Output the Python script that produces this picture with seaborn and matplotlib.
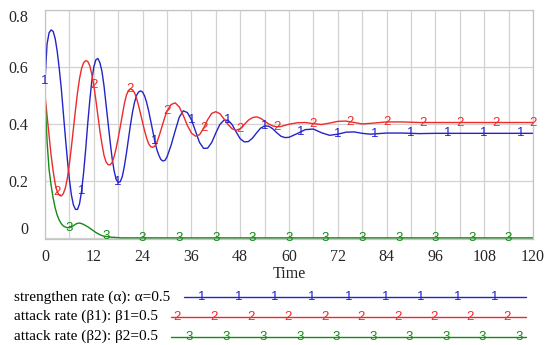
import numpy as np
import pandas as pd
import matplotlib
matplotlib.use('Agg')
import matplotlib.pyplot as plt
from matplotlib.lines import Line2D
import seaborn as sns

# ─── Data ───
# sample times: every 0.5 up to 30, every 1 up to 60, then coarser
time = (list(np.arange(0, 30.5, 0.5)) + list(range(31, 61))
        + list(range(62, 81, 2)) + list(range(84, 121, 4)))

strengthen = [
    # 0 .. 30 (step 0.5)
    0.55, 0.68, 0.72, 0.73, 0.725, 0.70, 0.655, 0.595, 0.525, 0.44,
    0.355, 0.275, 0.205, 0.15, 0.115, 0.10, 0.10, 0.12, 0.165, 0.23,
    0.31, 0.40, 0.48, 0.55, 0.60, 0.625, 0.63, 0.615, 0.585, 0.535,
    0.47, 0.405, 0.34, 0.28, 0.235, 0.205, 0.195, 0.197, 0.215, 0.25,
    0.295, 0.345, 0.395, 0.44, 0.475, 0.50, 0.512, 0.516, 0.512, 0.498,
    0.475, 0.445, 0.41, 0.375, 0.34, 0.31, 0.29, 0.275, 0.27, 0.272,
    0.284,
    # 31 .. 60
    0.325, 0.375, 0.423, 0.446, 0.44, 0.415, 0.375, 0.335, 0.314, 0.315,
    0.335, 0.368, 0.398, 0.413, 0.413, 0.398, 0.372, 0.348, 0.337, 0.338,
    0.35, 0.368, 0.385, 0.393, 0.392, 0.383, 0.369, 0.357, 0.352, 0.353,
    # 62 .. 80
    0.366, 0.38, 0.382, 0.369, 0.36, 0.364, 0.371, 0.372, 0.367, 0.364,
    # 84 .. 120
    0.368, 0.368, 0.366, 0.367, 0.367, 0.367, 0.367, 0.367, 0.367, 0.367]

attack_b1 = [
    # 0 .. 30 (step 0.5)
    0.5, 0.43, 0.36, 0.29, 0.235, 0.19, 0.162, 0.15, 0.147, 0.155,
    0.175, 0.21, 0.26, 0.32, 0.385, 0.45, 0.51, 0.56, 0.595, 0.615,
    0.622, 0.62, 0.605, 0.575, 0.535, 0.485, 0.43, 0.375, 0.33, 0.29,
    0.267, 0.257, 0.256, 0.265, 0.285, 0.315, 0.35, 0.39, 0.43, 0.47,
    0.50, 0.517, 0.523, 0.52, 0.51, 0.49, 0.465, 0.435, 0.405, 0.375,
    0.35, 0.33, 0.32, 0.318, 0.322, 0.335, 0.355, 0.378, 0.402, 0.425,
    0.445,
    # 31 .. 60
    0.468, 0.474, 0.46, 0.43, 0.395, 0.368, 0.357, 0.362, 0.385, 0.415,
    0.437, 0.443, 0.436, 0.418, 0.398, 0.383, 0.378, 0.383, 0.398, 0.413,
    0.422, 0.425, 0.42, 0.41, 0.40, 0.393, 0.39, 0.391, 0.395, 0.399,
    # 62 .. 80
    0.404, 0.405, 0.401, 0.398, 0.403, 0.409, 0.41, 0.405, 0.40, 0.402,
    # 84 .. 120
    0.407, 0.407, 0.405, 0.405, 0.405, 0.405, 0.405, 0.405, 0.405, 0.405]

attack_b2 = [
    # 0 .. 30 (step 0.5)
    0.5, 0.34, 0.24, 0.185, 0.14, 0.105, 0.08, 0.062, 0.05, 0.042,
    0.038, 0.036, 0.036, 0.039, 0.043, 0.048, 0.051, 0.052, 0.05, 0.047,
    0.043, 0.039, 0.034, 0.029, 0.024, 0.019, 0.015, 0.011, 0.008, 0.006,
    0.005, 0.004, 0.003, 0.002, 0.002, 0.001, 0.001, 0.0, 0.0, 0.0,
    0.0, 0.0, 0.0, 0.0, 0.0, 0.0, 0.0, 0.0, 0.0, 0.0,
    0.0, 0.0, 0.0, 0.0, 0.0, 0.0, 0.0, 0.0, 0.0, 0.0,
    0.0,
    # 31 .. 60
    0.0, 0.0, 0.0, 0.0, 0.0, 0.0, 0.0, 0.0, 0.0, 0.0,
    0.0, 0.0, 0.0, 0.0, 0.0, 0.0, 0.0, 0.0, 0.0, 0.0,
    0.0, 0.0, 0.0, 0.0, 0.0, 0.0, 0.0, 0.0, 0.0, 0.0,
    # 62 .. 80
    0.0, 0.0, 0.0, 0.0, 0.0, 0.0, 0.0, 0.0, 0.0, 0.0,
    # 84 .. 120
    0.0, 0.0, 0.0, 0.0, 0.0, 0.0, 0.0, 0.0, 0.0, 0.0]

x_ticks = [0, 12, 24, 36, 48, 60, 72, 84, 96, 108, 120]
y_ticks = [0, 0.2, 0.4, 0.6, 0.8]
y_tick_labels = ['0', '0.2', '0.4', '0.6', '0.8']

series_names = ['strengthen rate (α): α=0.5',
                'attack rate (β1): β1=0.5',
                'attack rate (β2): β2=0.5']
series_tags = ['1', '2', '3']
colors = ['#2424c8', '#ee2a2a', '#158a15']

df = pd.DataFrame({'Time': time,
                   series_names[0]: strengthen,
                   series_names[1]: attack_b1,
                   series_names[2]: attack_b2})
long_df = df.melt(id_vars='Time', var_name='series', value_name='value')

sns.set_style('white')
plt.rcParams['font.family'] = ['Liberation Serif', 'DejaVu Serif']

fig = plt.figure(figsize=(5.5, 3.45), dpi=100)
ax = fig.add_axes([45 / 550, 1 - 239 / 345, 488 / 550, 229 / 345])

sns.lineplot(data=long_df, x='Time', y='value', hue='series',
             palette=dict(zip(series_names, colors)), legend=False,
             linewidth=1.0, ax=ax)

# ─── Numbered tags along each curve (Vensim style) ───
tag_starts = [0, 3, 6]
for vals, tag, start, col in zip([strengthen, attack_b1, attack_b2], series_tags, tag_starts, colors):
    for t in range(start, 121, 9):
        ax.text(t, np.interp(t, time, vals), tag, color=col, fontsize=9.5,
                family='Liberation Sans', ha='center', va='center', clip_on=False)

ax.set_xlim(0, 120)
ax.set_ylim(-0.004, 0.8)
ax.set_xticks(x_ticks)
ax.set_xticks(np.arange(6, 120, 12), minor=True)
ax.set_yticks(y_ticks)
ax.set_yticklabels(y_tick_labels)
for lab in ax.get_yticklabels():
    if lab.get_text() == '0':
        lab.set_va('bottom')
    elif lab.get_text() == '0.8':
        lab.set_va('top')
ax.tick_params(axis='both', which='both', length=0, labelsize=11.5)
ax.tick_params(axis='y', pad=12)
ax.tick_params(axis='x', pad=7)
ax.grid(True, which='both', color='#d2d2d2', linewidth=0.9)
ax.set_axisbelow(True)
for sp in ax.spines.values():
    sp.set_color('#c4c4c4')
    sp.set_linewidth(0.9)
ax.set_xlabel('Time', fontsize=11.5, labelpad=1)
ax.set_ylabel('')

# ─── Legend block under the chart (pixel coordinates) ───
lax = fig.add_axes([0, 0, 1, 1], zorder=-1)
lax.set_xlim(0, 550)
lax.set_ylim(345, 0)
lax.axis('off')
legend_rows = [297, 316.5, 336.5]
legend_text_right = [170, 158, 158]
legend_line_start = [184, 171, 171]
legend_tag_x = [[202, 239, 275, 312, 349, 386, 421, 458, 495],
                [177, 214, 251, 288, 325, 361, 398, 434, 470, 507],
                [189, 226, 263, 300, 336, 373, 409, 446, 482, 519]]
for name, tag, col, y, xr, x0, tx in zip(series_names, series_tags, colors, legend_rows,
                                         legend_text_right, legend_line_start, legend_tag_x):
    lax.text(xr, y, name, ha='right', va='center', fontsize=11, color='black')
    lax.add_line(Line2D([x0, 526], [y, y], color=col, linewidth=1.0))
    for x in tx:
        lax.text(x, y, tag, color=col, fontsize=9.5, family='Liberation Sans',
                 ha='center', va='center')

plt.savefig('out.png', dpi=100)
